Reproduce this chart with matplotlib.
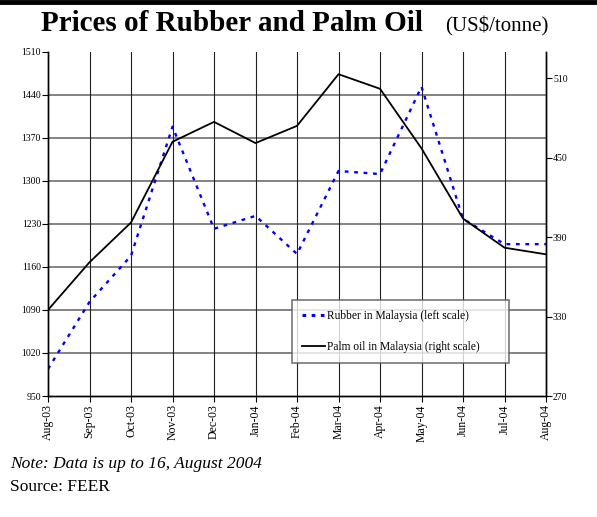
import matplotlib.pyplot as plt
from matplotlib.lines import Line2D

plt.rcParams['font.family'] = ['Liberation Serif', 'DejaVu Serif']

months = ['Aug-03', 'Sep-03', 'Oct-03', 'Nov-03', 'Dec-03', 'Jan-04', 'Feb-04',
          'Mar-04', 'Apr-04', 'May-04', 'Jun-04', 'Jul-04', 'Aug-04']
rubber = [994, 1103, 1178, 1388, 1222, 1243, 1181, 1316, 1311, 1453, 1238, 1197, 1197]
palm_oil = [335, 371, 401, 462, 477, 461, 474, 513, 502, 457, 404, 382, 377]
left_ticks = [950, 1020, 1090, 1160, 1230, 1300, 1370, 1440, 1510]
right_ticks = [270, 330, 390, 450, 510]

x = list(range(len(months)))

fig = plt.figure(figsize=(5.97, 5.17), dpi=100)
ax = fig.add_axes([0.0804, 0.234, 0.8342, 0.666])
ax2 = ax.twinx()

# grid: grey horizontal, dark vertical
for v in left_ticks[1:-1]:
    ax.axhline(v, color='#7a7a7a', lw=1.3, zorder=1)
for xi in x[1:-1]:
    ax.axvline(xi, color='#202020', lw=0.8, zorder=1)

ax.plot(x, rubber, color='#0000ff', lw=1.7, linestyle=(0, (1.6, 2.4)), zorder=3)
ax2.plot(x, palm_oil, color='black', lw=1.3, zorder=3)

ax.set_xlim(0, 12)
ax.set_ylim(950, 1510)
ax2.set_ylim(270, 530)
ax.set_yticks(left_ticks)
ax2.set_yticks(right_ticks)
ax.set_xticks(x)
ax.set_xticklabels(months, rotation=90, fontsize=8.5)
ax.tick_params(axis='y', labelsize=7, length=4, width=0.8, pad=1)
ax2.tick_params(axis='y', labelsize=7, length=4, width=0.8, pad=1)
ax.tick_params(axis='x', length=4, width=0.8, pad=2)

for a in (ax, ax2):
    a.spines['top'].set_visible(False)
    for s in ('left', 'right', 'bottom'):
        a.spines[s].set_linewidth(1.0)
        a.spines[s].set_color('black')

handles = [Line2D([], [], color='#0000ff', lw=2.2, linestyle=(0, (1.2, 1.8))),
           Line2D([], [], color='black', lw=1.3)]
leg = ax2.legend(handles, ['Rubber in Malaysia (left scale)', 'Palm oil in Malaysia (right scale)'],
                 loc='lower left', bbox_to_anchor=(0.49, 0.096, 0.436, 0.183), mode='expand',
                 fontsize=8.3, frameon=True, fancybox=False, handlelength=2.0,
                 handletextpad=0.1, labelspacing=1.6, borderpad=0.9, borderaxespad=0)
leg.get_frame().set_edgecolor('#555555')
leg.get_frame().set_linewidth(1.2)
leg.set_zorder(5)

# title and thick top rule
fig.add_artist(Line2D([0, 0.997], [0.996, 0.996], color='black', lw=3.5, transform=fig.transFigure))
fig.text(0.068, 0.94, 'Prices of Rubber and Palm Oil', fontsize=21, fontweight='bold', va='baseline')
fig.text(0.745, 0.94, '(US$/tonne)', fontsize=15, va='baseline')

fig.text(0.017, 0.095, 'Note: Data is up to 16, August 2004', fontsize=12.5, style='italic', va='baseline')
fig.text(0.017, 0.05, 'Source: FEER', fontsize=12.5, va='baseline')

fig.savefig('out.png', dpi=100)
